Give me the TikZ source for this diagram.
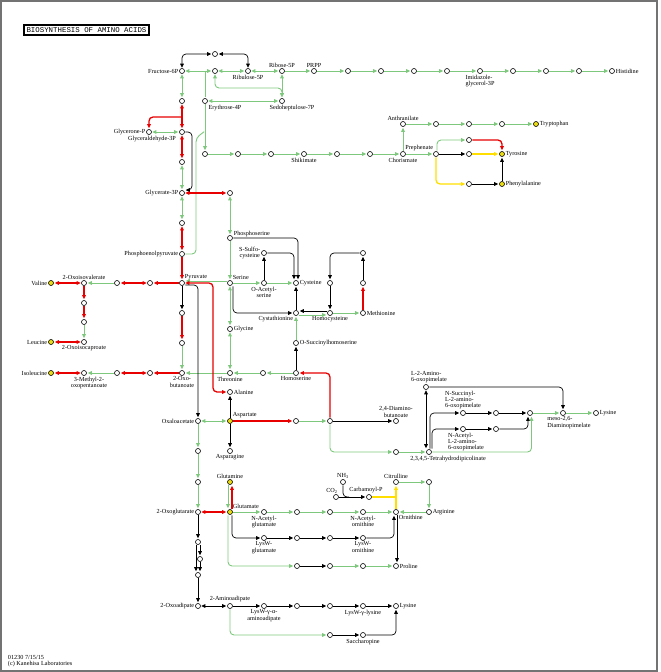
\documentclass[tikz,border=0pt]{standalone}
\usepackage{fontspec}
\setmainfont{Liberation Serif}
\newfontfamily\monofont{Liberation Mono}
\usetikzlibrary{arrows.meta}
\definecolor{kgreen}{RGB}{125,200,125}
\definecolor{kred}{RGB}{232,0,0}
\definecolor{kyel}{RGB}{255,222,0}
\definecolor{kfill}{RGB}{236,222,20}
\newcommand\keggsize{\fontsize{6.2}{6.4}\selectfont}

\begin{document}
\begin{tikzpicture}[x=1pt,y=-1pt,font=\keggsize,
 >={Triangle[length=4pt,width=3.6pt]},
 cpd/.style={circle,draw,line width=0.6pt,fill=white,minimum size=5pt,inner sep=0pt},
 aa/.style={cpd,fill=kfill},
 lbl/.style={font=\keggsize,inner sep=0.8pt,align=center},
 gl/.style={draw=kgreen,line width=0.9pt,rounded corners=4pt,shorten >=1pt,shorten <=0.5pt},
 rd/.style={draw=kred,line width=1.3pt,rounded corners=4pt,shorten >=1pt,shorten <=0.5pt},
 bk/.style={draw=black,line width=0.7pt,rounded corners=4pt,shorten >=1pt,shorten <=0.5pt},
 yl/.style={draw=kyel,line width=1.3pt,rounded corners=4pt,shorten >=1pt,shorten <=0.5pt}]
\useasboundingbox (0,0) rectangle (661,672);
\draw[black!55,line width=1.2pt] (1,1) rectangle (657,671);
\node[draw,line width=1.6pt,inner sep=2.5pt,font=\monofont\fontsize{7.4}{8}\selectfont] (title) at (86.5,30) {BIOSYNTHESIS OF AMINO ACIDS};
\node[lbl,anchor=north west,align=left] (foot) at (7,654) {01230 7/15/15\\(c) Kanehisa Laboratories};

% pentose phosphate and histidine
\node[cpd,label={[lbl]left:Fructose-6P}] (f6p) at (182,71) {};
\node[cpd] (top) at (215,54) {};
\node[cpd] (n1) at (215,71) {};
\node[cpd,label={[lbl]below:Ribulose-5P}] (ru5p) at (248,71) {};
\node[cpd,label={[lbl]above:Ribose-5P}] (r5p) at (282,71) {};
\node[cpd,label={[lbl]above:PRPP}] (prpp) at (314,71) {};
\foreach \i/\x in {1/348,2/381,3/414,4/447,6/513,7/546,8/579} \node[cpd] (h\i) at (\x,71) {};
\node[cpd,label={[lbl,align=left]below:Imidazole-\\glycerol-3P}] (h5) at (480,71) {};
\node[cpd,label={[lbl]right:Histidine}] (his) at (612,71) {};
\node[cpd,label={[lbl,xshift=20pt]below:Erythrose-4P}] (e4p) at (205,101) {};
\node[cpd,label={[lbl,xshift=10pt]below:Sedoheptulose-7P}] (s7p) at (282,101) {};

% glycolysis
\node[cpd] (g1) at (182,101) {};
\node[cpd,label={[lbl]left:Glycerone-P}] (dhap) at (149,132) {};
\node[cpd,label={[lbl,xshift=-30pt]below:Glyceraldehyde-3P}] (gap) at (182,132) {};
\node[cpd] (g2) at (182,162) {};
\node[cpd,label={[lbl]left:Glycerate-3P}] (g3p) at (182,193) {};
\node[cpd] (g4) at (182,223) {};
\node[cpd,label={[lbl]left:Phosphoenolpyruvate}] (pep) at (182,254) {};
\node[cpd,label={[lbl,anchor=south west]north east:Pyruvate}] (pyr) at (182,283) {};

% aromatic
\node[cpd] (dahp) at (205,154) {};
\node[cpd] (sh1) at (238,154) {};
\node[cpd] (sh2) at (271,154) {};
\node[cpd,label={[lbl]below:Shikimate}] (shk) at (304,154) {};
\node[cpd] (sh3) at (337,154) {};
\node[cpd] (sh4) at (370,154) {};
\node[cpd,label={[lbl]below:Chorismate}] (cho) at (403,154) {};
\node[cpd,label={[lbl,anchor=south east]north west:Prephenate}] (pre) at (436,154) {};
\node[cpd,label={[lbl]above:Anthranilate}] (ant) at (403,124) {};
\node[cpd] (t1) at (436,124) {};
\node[cpd] (t2) at (469,124) {};
\node[cpd] (t3) at (502,124) {};
\node[aa,label={[lbl]right:Tryptophan}] (trp) at (536,124) {};
\node[cpd] (ty1) at (469,140) {};
\node[cpd] (ty2) at (469,154) {};
\node[aa,label={[lbl]right:Tyrosine}] (tyr) at (502,154) {};
\node[cpd] (ph1) at (469,184) {};
\node[aa,label={[lbl]right:Phenylalanine}] (phe) at (502,184) {};

% serine, cysteine, methionine
\node[cpd] (ser1) at (230,193) {};
\node[cpd,label={[lbl,yshift=4pt]right:Phosphoserine}] (pser) at (230,238) {};
\node[cpd,label={[lbl]left:S-Sulfo-\\cysteine}] (ssc) at (264,253) {};
\node[cpd,label={[lbl,anchor=south west]north east:Serine}] (ser) at (230,283) {};
\node[cpd,label={[lbl]below:O-Acetyl-\\serine}] (oas) at (264,283) {};
\node[cpd,label={[lbl]right:Cysteine}] (cys) at (296,283) {};
\node[cpd,label={[lbl,anchor=north east]south west:Cystathionine}] (cysta) at (296,313) {};
\node[cpd] (hc1) at (330,283) {};
\node[cpd] (m1) at (363,253) {};
\node[cpd] (m2) at (363,283) {};
\node[cpd,label={[lbl]below:Homocysteine}] (homocys) at (330,313) {};
\node[cpd,label={[lbl]right:Methionine}] (met) at (363,313) {};
\node[cpd,label={[lbl]right:Glycine}] (gly) at (230,329) {};
\node[cpd,label={[lbl]right:O-Succinylhomoserine}] (osh) at (296,343) {};
\node[cpd,label={[lbl]below:Threonine}] (thr) at (230,373) {};
\node[cpd] (t4) at (263,373) {};
\node[cpd,label={[lbl]below:Homoserine}] (hom) at (296,373) {};

% branched chain
\node[cpd] (p1) at (182,313) {};
\node[cpd] (p2) at (182,343) {};
\node[cpd,label={[lbl]below:2-Oxo-\\butanoate}] (obu) at (182,373) {};
\node[aa,label={[lbl]left:Valine}] (val) at (51,283) {};
\node[cpd,label={[lbl]above:2-Oxoisovalerate}] (oiv) at (84,283) {};
\node[cpd] (b1) at (117,283) {};
\node[cpd] (b2) at (150,283) {};
\node[cpd] (l1) at (84,303) {};
\node[cpd] (l2) at (84,322) {};
\node[cpd,label={[lbl]below:2-Oxoisocaproate}] (oic) at (84,342) {};
\node[aa,label={[lbl]left:Leucine}] (leu) at (51,342) {};
\node[aa,label={[lbl]left:Isoleucine}] (ile) at (51,373) {};
\node[cpd,label={[lbl,xshift=5pt]below:3-Methyl-2-\\oxopentanoate}] (mop) at (84,373) {};
\node[cpd] (i1) at (117,373) {};
\node[cpd] (i2) at (150,373) {};

% aspartate family
\node[cpd,label={[lbl]right:Alanine}] (ala) at (230,392) {};
\node[cpd,label={[lbl]left:Oxaloacetate}] (oaa) at (198,421) {};
\node[aa,label={[lbl,anchor=south west]north east:Aspartate}] (asp) at (230,421) {};
\node[cpd,label={[lbl]below:Asparagine}] (asn) at (230,451) {};
\node[cpd] (a1) at (296,421) {};
\node[cpd] (a2) at (330,421) {};
\node[cpd,label={[lbl]above:{2,4-Diamino-\\butanoate}}] (dab) at (396,421) {};
\node[cpd] (d1) at (396,452) {};
\node[cpd,label={[lbl,xshift=19pt]below:{2,3,4,5-Tetrahydrodipicolinate}}] (thdp) at (429,452) {};
\node[cpd,label={[lbl,align=left,xshift=3pt]above:L-2-Amino-\\6-oxopimelate}] (aop) at (426,387) {};
\node[cpd,label={[lbl,align=left]above:N-Succinyl-\\L-2-amino-\\6-oxopimelate}] (nsu) at (463,413) {};
\node[cpd] (s1) at (496,413) {};
\node[cpd] (s2) at (530,413) {};
\node[cpd,label={[lbl,align=left,xshift=3pt]below:N-Acetyl-\\L-2-amino-\\6-oxopimelate}] (nac) at (463,429) {};
\node[cpd] (c1) at (496,429) {};
\node[cpd,label={[lbl,align=left,xshift=6pt]below:{meso-2,6-\\Diaminopimelate}}] (mdap) at (563,413) {};
\node[cpd,label={[lbl]right:Lysine}] (lys1) at (596,413) {};

% glutamate family
\node[cpd] (o1) at (198,451) {};
\node[cpd] (o2) at (198,482) {};
\node[cpd,label={[lbl]left:2-Oxoglutarate}] (akg) at (198,512) {};
\node[aa,label={[lbl]above:Glutamine}] (gln) at (230,482) {};
\node[aa,label={[lbl,anchor=south west]north east:Glutamate}] (glu) at (230,512) {};
\node[cpd,label={[lbl]below:N-Acetyl-\\glutamate}] (nag) at (264,512) {};
\node[cpd] (g5) at (297,512) {};
\node[cpd] (g6) at (330,512) {};
\node[cpd,label={[lbl]below:N-Acetyl-\\ornithine}] (naorn) at (363,512) {};
\node[cpd,label={[lbl,anchor=north west]south east:Ornithine}] (orn) at (396,512) {};
\node[cpd,label={[lbl]right:Arginine}] (arg) at (429,512) {};
\node[cpd] (c2) at (429,482) {};
\node[cpd,label={[lbl]above:Citrulline}] (cit) at (396,482) {};
\node[cpd,label={[lbl,xshift=-4pt]above:CO\textsubscript{2}}] (co2) at (336,497) {};
\node[cpd,label={[lbl]above:NH\textsubscript{3}}] (nh3) at (343,482) {};
\node[cpd,label={[lbl,xshift=-3pt]above:Carbamoyl-P}] (cbp) at (369,497) {};
\node[cpd,label={[lbl]below:LysW-\\glutamate}] (lwg) at (264,538) {};
\node[cpd] (w2) at (297,538) {};
\node[cpd] (w3) at (330,538) {};
\node[cpd,label={[lbl]below:LysW-\\ornithine}] (lwo) at (363,538) {};
\node[cpd] (pr1) at (297,566) {};
\node[cpd] (pr2) at (330,566) {};
\node[cpd] (pr3) at (363,566) {};
\node[cpd,label={[lbl]right:Proline}] (pro) at (396,566) {};

% aminoadipate route
\node[cpd] (k1) at (198,542) {};
\node[cpd] (k2) at (200,559) {};
\node[cpd] (k3) at (198,575) {};
\node[cpd,label={[lbl]left:2-Oxoadipate}] (oad) at (198,606) {};
\node[cpd,label={[lbl]above:2-Aminoadipate}] (aad) at (230,606) {};
\node[cpd,label={[lbl]below:LysW-γ-α-\\aminoadipate}] (lwa) at (264,606) {};
\node[cpd] (q2) at (297,606) {};
\node[cpd] (q3) at (330,606) {};
\node[cpd,label={[lbl]below:LysW-γ-lysine}] (lwl) at (363,606) {};
\node[cpd,label={[lbl]right:Lysine}] (lys2) at (396,606) {};
\node[cpd] (s3) at (330,635) {};
\node[cpd,label={[lbl]below:Saccharopine}] (sac) at (363,635) {};

\coordinate (j1) at (205,71);
\coordinate (j2) at (205,131);
\coordinate (j3) at (182,117);
\coordinate (j5) at (350,497);
\coordinate (j6) at (396,497);

% connectors
\draw[gl,<->] (f6p)--(n1); \draw[gl,<->] (n1)--(ru5p); \draw[gl,<->] (ru5p)--(r5p); \draw[gl,->] (r5p)--(prpp);
\draw[gl,->] (prpp)--(h1); \draw[gl,->] (h1)--(h2); \draw[gl,->] (h2)--(h3); \draw[gl,->] (h3)--(h4);
\draw[gl,->] (h4)--(h5); \draw[gl,->] (h5)--(h6); \draw[gl,->] (h6)--(h7); \draw[gl,->] (h7)--(h8); \draw[gl,->] (h8)--(his);
\draw[bk,<->] (f6p)|-(top); \draw[bk,<->] (ru5p)|-(top);
\draw[gl,<->] (n1)--++(0,17)-|(s7p); \draw[gl,<->] (r5p)--(s7p); \draw[gl,<->] (e4p)--(s7p);
\draw[gl] (j1)--(e4p); \draw[gl,->] (e4p)--(dahp); \draw[gl] (pep)-|(196,138)--(j2);
\draw[gl,<->] (f6p)--(g1); \draw[rd,<->] (g1)--(gap); \draw[rd,->] (j3)-|(dhap); \draw[gl,<->] (dhap)--(gap);
\draw[rd,<->] (gap)--(g2); \draw[gl,<->] (g2)--(g3p); \draw[gl,<->] (g3p)--(g4); \draw[rd,<->] (g4)--(pep); \draw[rd,->] (pep)--(pyr);
\draw[bk,->] (gap)-|([xshift=10pt,yshift=3pt]g3p.center)--([yshift=3pt]g3p.east);
\draw[rd,<->] (g3p)--(ser1); \draw[gl,<->] (ser1)--(pser); \draw[gl,->] (pser)--(ser);
% aromatic
\draw[gl,->] (dahp)--(sh1); \draw[gl,->] (sh1)--(sh2); \draw[gl,->] (sh2)--(shk); \draw[gl,->] (shk)--(sh3);
\draw[gl,->] (sh3)--(sh4); \draw[gl,->] (sh4)--(cho); \draw[gl,->] (cho)--(pre); \draw[gl,->] (cho)--(ant);
\draw[gl,->] (ant)--(t1); \draw[gl,->] (t1)--(t2); \draw[gl,->] (t2)--(t3); \draw[gl,->] (t3)--(trp);
\draw[gl,->] ([xshift=1pt]pre.north)|-(ty1); \draw[rd,->] (ty1)-|(tyr); \draw[bk,->] (pre)--(ty2); \draw[yl,->] (ty2)--(tyr);
\draw[yl,->] (pre)|-(ph1); \draw[bk,->] (ph1)--(phe); \draw[bk,->] (phe)--(tyr);
% serine, cysteine, methionine
\draw[gl,->] ([yshift=2pt]ser.west)--([yshift=2pt]pyr.east); \draw[gl,->] (ser)--(oas); \draw[gl,->] (oas)--(cys); \draw[bk,->] (oas)--(ssc);
\draw[bk,->] (pser)-|([xshift=2pt]cys.north); \draw[bk,->] (ssc)-|([xshift=-2pt]cys.north);
\draw[bk,->] ([xshift=3pt]ser.south)|-(cysta); \draw[bk,->] (cysta)--(cys);
\draw[gl,->] ([yshift=-2pt]cysta.east)--([yshift=-2pt]homocys.west); \draw[bk,->] ([yshift=2pt]homocys.west)--([yshift=2pt]cysta.east);
\draw[gl,->] (homocys)--(met); \draw[rd,->] (met)--(m2); \draw[bk,->] (m2)--(m1); \draw[bk,->] (m1)-|(hc1); \draw[bk,->] (hc1)--(homocys);
\draw[gl,<->] (ser)--(gly); \draw[gl,<->] (gly)--(thr);
\draw[gl,->] (osh)--(cysta); \draw[bk,->] (hom)--(osh); \draw[gl,->] (hom)--(t4); \draw[gl,->] (t4)--(thr); \draw[gl,->] (thr)--(obu);
% branched chain
\draw[bk,->] (pyr)--(p1); \draw[rd,->] (p1)--(p2); \draw[gl,->] (p2)--(obu);
\draw[rd,->] (pyr)--(b2); \draw[rd,<->] (b2)--(b1); \draw[gl,->] (b1)--(oiv); \draw[rd,<->] (oiv)--(val);
\draw[rd,->] (oiv)--(l1); \draw[rd,->] (l1)--(l2); \draw[gl,->] (l2)--(oic); \draw[rd,<->] (oic)--(leu);
\draw[rd,->] (obu)--(i2); \draw[rd,<->] (i2)--(i1); \draw[gl,->] (i1)--(mop); \draw[rd,<->] (mop)--(ile);
% aspartate family
\draw[rd,<->] (pyr.east)-|([xshift=-17pt]ala.center)--(ala); \draw[bk,->] ([yshift=-2pt]pyr.east)-|(oaa.north);
\draw[gl,<->] (oaa)--(asp); \draw[bk,->] (asp)--(ala); \draw[bk,->] (asp)--(asn);
\draw[rd,->] (asp)--(a1); \draw[gl,->] (a1)--(a2); \draw[rd,->] (a2.north)|-(hom); \draw[bk,->] (a2)--(dab);
\draw[gl,->] (a2)|-(d1); \draw[gl,->] (d1)--(thdp);
\draw[bk,<->] (aop)--([xshift=-3pt]thdp.north);
\draw[bk,->] ([xshift=1pt]thdp.north)|-(nsu); \draw[bk,->] ([xshift=3pt]thdp.north)|-(nac);
\draw[bk,->] (aop)-|(mdap); \draw[bk,->] (nsu)--(s1); \draw[bk,->] (s1)--(s2);
\draw[bk,->] (nac)--(c1); \draw[bk,->] (c1)-|([xshift=-2pt]s2.south);
\draw[gl,->] (thdp)-|([xshift=1.5pt]s2.south); \draw[gl,->] (s2)--(mdap); \draw[gl,->] (mdap)--(lys1);
% glutamate family
\draw[gl,->] (oaa)--(o1); \draw[gl,->] (o1)--(o2); \draw[gl,->] (o2)--(akg); \draw[rd,<->] (akg)--(glu);
\draw[rd,->] ([xshift=2pt]glu.north)--([xshift=2pt]gln.south); \draw[gl,->] ([xshift=-2pt]gln.south)--([xshift=-2pt]glu.north);
\draw[gl,->] (glu)--(nag); \draw[gl,->] (nag)--(g5); \draw[gl,->] (g5)--(g6); \draw[gl,->] (g6)--(naorn); \draw[gl,->] (naorn)--(orn);
\draw[bk,->] (co2)--(cbp); \draw[bk] (nh3)|-(j5); \draw[yl] (cbp)--(j6); \draw[yl,->] (orn)--(cit);
\draw[gl,->] (cit)--(c2); \draw[gl,->] (c2)--(arg); \draw[gl,->] (arg)--(orn);
\draw[bk,->] ([xshift=2pt]glu.south)|-(lwg); \draw[bk,->] (lwg)--(w2); \draw[bk,->] (w2)--(w3); \draw[bk,->] (w3)--(lwo);
\draw[bk,->] (lwo)-|([xshift=-2pt]orn.south);
\draw[gl,->] ([xshift=-2pt]glu.south)|-(pr1); \draw[bk,->] (pr1)--(pr2); \draw[gl,->] (pr2)--(pr3); \draw[gl,->] (pr3)--(pro);
\draw[bk,->] ([xshift=1pt]orn.south)--([xshift=1pt]pro.north);
% aminoadipate route
\draw[bk,->] (akg)--(k1); \draw[bk,->] ([xshift=2pt]k1.south)--(k2.north);
\draw[bk,->] ([xshift=-2pt]k1.south)--([xshift=-2pt]k3.north); \draw[bk,->] (k2)--([xshift=2pt]k3.north);
\draw[bk,->] (k3)--(oad); \draw[bk,<->] (oad)--(aad);
\draw[bk,->] (aad)--(lwa); \draw[bk,->] (lwa)--(q2); \draw[bk,->] (q2)--(q3); \draw[bk,->] (q3)--(lwl); \draw[bk,->] (lwl)--(lys2);
\draw[gl,->] (aad)|-(s3); \draw[bk,->] (s3)--(sac); \draw[bk,->] (sac)-|(lys2.south);
\end{tikzpicture}
\end{document}
